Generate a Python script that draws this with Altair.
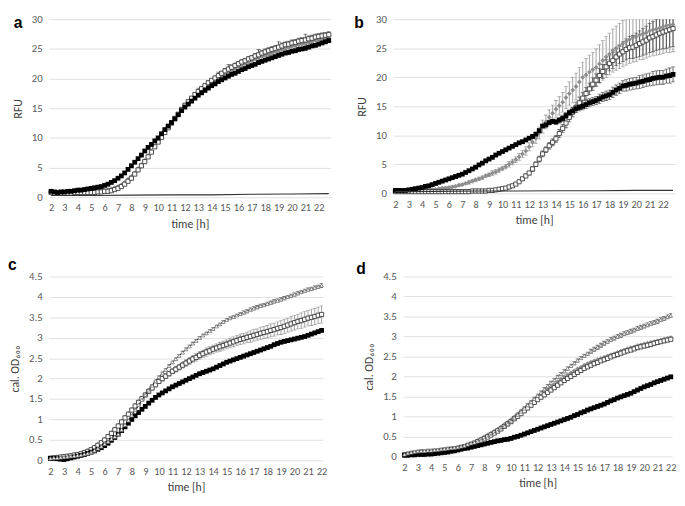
import altair as alt
import pandas as pd

FONT = "Carlito, Lato"

# sampling times (h), every 15 min
T_AB = [2 + 0.25 * i for i in range(84)]   # 2 .. 22.75
T_CD = [2 + 0.25 * i for i in range(81)]   # 2 .. 22

# ---------------- panel a (RFU) ----------------
A_BLACK = [
    1.0, 0.9, 0.8, 0.9, 0.9, 1.0, 1.0, 1.1, 1.2, 1.2, 1.3, 1.4,
    1.5, 1.6, 1.7, 1.8, 2.0, 2.2, 2.5, 2.8, 3.2, 3.6, 4.1, 4.7,
    5.3, 5.9, 6.5, 7.1, 7.8, 8.4, 8.9, 9.5, 10.0, 10.7, 11.4, 12.0,
    12.6, 13.2, 13.9, 14.6, 15.2, 15.7, 16.2, 16.7, 17.2, 17.6, 18.0, 18.4,
    18.8, 19.1, 19.5, 19.8, 20.1, 20.4, 20.7, 20.9, 21.2, 21.5, 21.7, 22.0,
    22.2, 22.4, 22.7, 22.9, 23.1, 23.3, 23.5, 23.7, 23.9, 24.1, 24.3, 24.4,
    24.6, 24.7, 24.9, 25.0, 25.1, 25.3, 25.5, 25.6, 25.8, 26.0, 26.2, 26.4,
]
A_OPEN = [
    0.8, 0.7, 0.7, 0.7, 0.7, 0.7, 0.7, 0.8, 0.8, 0.8, 0.8, 0.8,
    0.8, 0.8, 0.9, 0.9, 1.0, 1.0, 1.1, 1.3, 1.5, 1.8, 2.2, 2.7,
    3.2, 3.9, 4.6, 5.3, 6.0, 6.8, 7.6, 8.5, 9.3, 10.1, 10.9, 11.7,
    12.5, 13.3, 14.0, 14.8, 15.5, 16.1, 16.7, 17.3, 17.8, 18.3, 18.8, 19.3,
    19.7, 20.1, 20.5, 20.9, 21.3, 21.6, 21.9, 22.2, 22.5, 22.8, 23.0, 23.3,
    23.5, 23.8, 24.0, 24.3, 24.5, 24.7, 24.9, 25.1, 25.3, 25.5, 25.7, 25.8,
    26.0, 26.1, 26.3, 26.4, 26.5, 26.7, 26.8, 27.0, 27.1, 27.2, 27.3, 27.4,
]
A_OPEN_ERR = [
    0.1, 0.1, 0.1, 0.1, 0.1, 0.1, 0.1, 0.1, 0.1, 0.1, 0.1, 0.1,
    0.1, 0.1, 0.1, 0.1, 0.1, 0.1, 0.1, 0.1, 0.1, 0.1, 0.1, 0.1,
    0.2, 0.2, 0.2, 0.2, 0.2, 0.2, 0.2, 0.2, 0.2, 0.2, 0.2, 0.2,
    0.3, 0.3, 0.3, 0.3, 0.3, 0.3, 0.3, 0.3, 0.6, 0.3, 0.3, 0.3,
    0.3, 0.3, 0.6, 0.3, 0.4, 0.8, 0.4, 0.4, 0.4, 0.4, 0.4, 0.4,
    0.4, 0.4, 0.9, 0.4, 0.5, 0.5, 0.5, 0.5, 0.9, 0.5, 0.5, 0.5,
    0.5, 0.5, 0.5, 0.5, 1.0, 0.5, 0.5, 0.5, 0.5, 0.5, 0.5, 0.5,
]
A_GRAY = [
    0.9, 0.8, 0.8, 0.8, 0.8, 0.8, 0.8, 0.9, 0.9, 0.9, 0.9, 1.0,
    1.0, 1.0, 1.1, 1.1, 1.2, 1.3, 1.4, 1.6, 1.8, 2.1, 2.5, 3.0,
    3.5, 4.1, 4.8, 5.5, 6.2, 7.0, 7.8, 8.6, 9.4, 10.2, 11.0, 11.8,
    12.5, 13.2, 13.9, 14.6, 15.3, 15.9, 16.5, 17.0, 17.5, 18.0, 18.5, 18.9,
    19.3, 19.7, 20.1, 20.5, 20.8, 21.1, 21.4, 21.7, 22.0, 22.3, 22.5, 22.8,
    23.0, 23.3, 23.5, 23.7, 23.9, 24.1, 24.3, 24.5, 24.7, 24.9, 25.0, 25.2,
    25.4, 25.5, 25.7, 25.8, 25.9, 26.1, 26.2, 26.4, 26.5, 26.6, 26.7, 26.8,
]
A_CTRL_T = [2, 5, 8, 11, 14, 17, 20, 22.75]
A_CTRL = [0.3, 0.3, 0.35, 0.4, 0.4, 0.5, 0.55, 0.6]

# ---------------- panel b (RFU) ----------------
B_BLACK = [
    0.5, 0.5, 0.5, 0.5, 0.6, 0.7, 0.8, 0.9, 1.0, 1.2, 1.3, 1.5,
    1.7, 1.9, 2.1, 2.3, 2.5, 2.7, 2.9, 3.1, 3.3, 3.6, 3.9, 4.2,
    4.5, 4.9, 5.2, 5.6, 5.9, 6.2, 6.6, 6.9, 7.2, 7.5, 7.8, 8.1,
    8.4, 8.7, 8.9, 9.2, 9.5, 9.8, 10.2, 10.8, 11.6, 11.8, 12.2, 12.4,
    12.3, 12.6, 12.9, 13.4, 13.9, 14.2, 14.6, 14.8, 15.0, 15.3, 15.6, 15.8,
    16.0, 16.3, 16.6, 16.8, 17.0, 17.4, 17.8, 18.1, 18.5, 18.6, 18.8, 18.9,
    19.0, 19.2, 19.3, 19.5, 19.6, 19.8, 19.9, 20.0, 20.0, 20.2, 20.3, 20.5,
]
B_BLACK_ERR = [
    0.1, 0.1, 0.1, 0.1, 0.1, 0.1, 0.1, 0.1, 0.1, 0.1, 0.1, 0.1,
    0.1, 0.1, 0.1, 0.1, 0.1, 0.1, 0.1, 0.1, 0.1, 0.1, 0.1, 0.1,
    0.1, 0.1, 0.1, 0.1, 0.2, 0.2, 0.2, 0.2, 0.2, 0.2, 0.2, 0.2,
    0.2, 0.2, 0.2, 0.2, 0.2, 0.3, 0.3, 0.3, 0.3, 0.4, 0.4, 0.4,
    0.4, 0.5, 0.5, 0.5, 0.5, 0.6, 0.6, 0.6, 0.6, 0.7, 0.7, 0.7,
    0.7, 0.8, 0.8, 0.8, 0.8, 0.9, 0.9, 0.9, 0.9, 1.0, 1.0, 1.0,
    1.0, 1.1, 1.1, 1.1, 1.1, 1.2, 1.2, 1.2, 1.2, 1.2, 1.3, 1.3,
]
B_GRAY = [
    0.4, 0.4, 0.4, 0.4, 0.4, 0.4, 0.5, 0.5, 0.5, 0.6, 0.6, 0.7,
    0.7, 0.8, 0.9, 0.9, 1.0, 1.1, 1.2, 1.4, 1.5, 1.7, 1.9, 2.1,
    2.3, 2.5, 2.7, 3.0, 3.2, 3.5, 3.7, 4.0, 4.3, 4.6, 5.0, 5.4,
    5.8, 6.3, 6.8, 7.3, 8.0, 8.8, 9.5, 10.4, 11.5, 12.3, 13.1, 13.8,
    14.5, 15.1, 15.7, 16.5, 17.2, 17.8, 18.4, 19.2, 20.0, 20.4, 20.9, 21.3,
    21.7, 22.3, 22.9, 23.5, 24.0, 24.6, 25.0, 25.4, 25.8, 26.2, 26.5, 26.8,
    27.0, 27.3, 27.5, 27.7, 28.0, 28.2, 28.3, 28.5, 28.7, 28.9, 29.0, 29.1,
]
B_GRAY_ERR = [
    0.1, 0.1, 0.1, 0.1, 0.1, 0.1, 0.1, 0.1, 0.1, 0.1, 0.1, 0.1,
    0.1, 0.1, 0.1, 0.2, 0.2, 0.2, 0.2, 0.2, 0.2, 0.2, 0.3, 0.3,
    0.3, 0.3, 0.3, 0.3, 0.3, 0.4, 0.4, 0.4, 0.4, 0.4, 0.5, 0.5,
    0.5, 0.6, 0.6, 0.7, 0.7, 0.8, 0.9, 1.0, 1.1, 1.2, 1.3, 1.4,
    1.5, 1.6, 1.7, 1.9, 2.0, 2.2, 2.3, 2.5, 2.6, 2.8, 2.9, 3.0,
    3.2, 3.3, 3.4, 3.5, 3.6, 3.7, 3.8, 3.9, 4.0, 4.1, 4.1, 4.2,
    4.3, 4.3, 4.4, 4.4, 4.5, 4.5, 4.5, 4.6, 4.6, 4.6, 4.7, 4.7,
]
B_OPEN = [
    0.3, 0.3, 0.3, 0.3, 0.3, 0.3, 0.3, 0.3, 0.3, 0.3, 0.3, 0.3,
    0.3, 0.3, 0.3, 0.3, 0.3, 0.3, 0.3, 0.3, 0.3, 0.3, 0.3, 0.4,
    0.4, 0.4, 0.4, 0.4, 0.5, 0.5, 0.6, 0.7, 0.8, 0.9, 1.1, 1.3,
    1.6, 2.0, 2.5, 3.0, 3.5, 4.2, 5.0, 5.9, 6.8, 7.5, 8.2, 8.8,
    9.4, 10.3, 11.2, 12.1, 13.1, 14.0, 14.8, 15.6, 16.4, 17.2, 18.0, 18.8,
    19.5, 20.3, 21.0, 21.8, 22.4, 22.9, 23.5, 24.0, 24.4, 24.8, 25.1, 25.2,
    25.5, 25.8, 26.1, 26.4, 26.8, 27.0, 27.3, 27.6, 27.8, 28.0, 28.2, 28.4,
]
B_OPEN_ERR = [
    0.1, 0.1, 0.1, 0.1, 0.1, 0.1, 0.1, 0.1, 0.1, 0.1, 0.1, 0.1,
    0.1, 0.1, 0.1, 0.1, 0.1, 0.1, 0.1, 0.1, 0.1, 0.1, 0.1, 0.1,
    0.1, 0.1, 0.1, 0.1, 0.1, 0.1, 0.1, 0.1, 0.1, 0.1, 0.2, 0.2,
    0.2, 0.2, 0.3, 0.3, 0.3, 0.4, 0.4, 0.5, 0.5, 0.5, 0.6, 0.6,
    0.6, 0.7, 0.7, 0.8, 0.8, 0.8, 0.9, 0.9, 0.9, 1.0, 1.0, 1.1,
    1.1, 1.2, 1.2, 1.3, 1.3, 1.4, 1.5, 1.6, 1.7, 1.8, 1.9, 2.0,
    2.1, 2.2, 2.3, 2.4, 2.5, 2.6, 2.7, 2.8, 2.9, 3.0, 3.0, 3.1,
]
B_CTRL_T = [2, 5, 8, 11, 14, 17, 20, 22.75]
B_CTRL = [0.3, 0.35, 0.4, 0.4, 0.45, 0.45, 0.5, 0.5]

# ---------------- panel c (cal. OD600) ----------------
C_TRI = [
    0.05, 0.06, 0.06, 0.07, 0.08, 0.09, 0.10, 0.11, 0.12, 0.13, 0.15, 0.17,
    0.20, 0.24, 0.29, 0.34, 0.40, 0.46, 0.52, 0.58, 0.64, 0.75, 0.87, 0.98,
    1.10, 1.23, 1.36, 1.48, 1.60, 1.71, 1.83, 1.94, 2.04, 2.13, 2.22, 2.31,
    2.40, 2.48, 2.56, 2.64, 2.72, 2.79, 2.86, 2.93, 3.00, 3.06, 3.11, 3.17,
    3.22, 3.28, 3.33, 3.39, 3.44, 3.48, 3.51, 3.55, 3.58, 3.62, 3.65, 3.69,
    3.72, 3.75, 3.78, 3.80, 3.83, 3.86, 3.89, 3.91, 3.94, 3.97, 4.00, 4.03,
    4.06, 4.09, 4.12, 4.15, 4.18, 4.20, 4.23, 4.25, 4.28,
]
C_TRI_ERR = [
    0.02, 0.02, 0.02, 0.02, 0.02, 0.02, 0.02, 0.02, 0.02, 0.02, 0.02, 0.02,
    0.02, 0.02, 0.02, 0.02, 0.02, 0.02, 0.02, 0.02, 0.02, 0.02, 0.02, 0.02,
    0.02, 0.02, 0.02, 0.02, 0.02, 0.02, 0.02, 0.02, 0.03, 0.03, 0.03, 0.03,
    0.03, 0.03, 0.03, 0.03, 0.03, 0.03, 0.03, 0.03, 0.03, 0.03, 0.03, 0.03,
    0.03, 0.03, 0.03, 0.03, 0.03, 0.03, 0.03, 0.03, 0.04, 0.04, 0.04, 0.04,
    0.04, 0.04, 0.04, 0.04, 0.04, 0.04, 0.04, 0.04, 0.04, 0.04, 0.04, 0.04,
    0.04, 0.04, 0.04, 0.04, 0.04, 0.04, 0.04, 0.04, 0.05,
]
C_GRAY = [
    0.06, 0.07, 0.08, 0.09, 0.10, 0.11, 0.12, 0.14, 0.15, 0.17, 0.20, 0.24,
    0.28, 0.33, 0.39, 0.45, 0.52, 0.60, 0.68, 0.77, 0.86, 0.96, 1.06, 1.15,
    1.25, 1.35, 1.44, 1.53, 1.62, 1.71, 1.79, 1.87, 1.95, 2.02, 2.08, 2.14,
    2.20, 2.26, 2.31, 2.37, 2.42, 2.47, 2.52, 2.56, 2.61, 2.65, 2.69, 2.72,
    2.76, 2.79, 2.82, 2.85, 2.88, 2.91, 2.94, 2.97, 3.00, 3.02, 3.04, 3.06,
    3.08, 3.10, 3.12, 3.14, 3.16, 3.18, 3.20, 3.22, 3.24, 3.27, 3.30, 3.33,
    3.36, 3.39, 3.41, 3.44, 3.46, 3.49, 3.51, 3.54, 3.56,
]
C_OPEN = [
    0.05, 0.06, 0.07, 0.08, 0.09, 0.10, 0.11, 0.13, 0.14, 0.16, 0.19, 0.22,
    0.26, 0.31, 0.37, 0.43, 0.50, 0.58, 0.66, 0.75, 0.84, 0.94, 1.04, 1.13,
    1.23, 1.33, 1.42, 1.51, 1.60, 1.69, 1.77, 1.85, 1.93, 2.00, 2.06, 2.12,
    2.18, 2.23, 2.28, 2.33, 2.38, 2.43, 2.48, 2.52, 2.57, 2.61, 2.65, 2.68,
    2.72, 2.75, 2.78, 2.81, 2.84, 2.87, 2.90, 2.93, 2.96, 2.98, 3.01, 3.03,
    3.06, 3.08, 3.11, 3.13, 3.15, 3.18, 3.20, 3.23, 3.25, 3.28, 3.31, 3.34,
    3.37, 3.40, 3.42, 3.45, 3.48, 3.50, 3.52, 3.55, 3.57,
]
C_OPEN_ERR = [
    0.03, 0.03, 0.03, 0.03, 0.03, 0.03, 0.03, 0.03, 0.03, 0.03, 0.03, 0.03,
    0.03, 0.03, 0.03, 0.03, 0.03, 0.03, 0.03, 0.03, 0.03, 0.03, 0.03, 0.03,
    0.04, 0.04, 0.04, 0.04, 0.04, 0.05, 0.05, 0.05, 0.05, 0.06, 0.06, 0.06,
    0.06, 0.07, 0.07, 0.07, 0.08, 0.08, 0.08, 0.09, 0.09, 0.09, 0.10, 0.10,
    0.10, 0.10, 0.11, 0.11, 0.11, 0.12, 0.12, 0.12, 0.13, 0.13, 0.13, 0.14,
    0.14, 0.14, 0.15, 0.15, 0.15, 0.16, 0.16, 0.16, 0.17, 0.17, 0.17, 0.18,
    0.18, 0.18, 0.19, 0.19, 0.19, 0.20, 0.20, 0.20, 0.21,
]
C_BLACK = [
    0.05, 0.05, 0.04, 0.03, 0.02, 0.04, 0.06, 0.08, 0.10, 0.12, 0.14, 0.17,
    0.20, 0.23, 0.27, 0.31, 0.36, 0.42, 0.49, 0.56, 0.64, 0.73, 0.82, 0.91,
    1.00, 1.09, 1.17, 1.25, 1.32, 1.40, 1.47, 1.54, 1.60, 1.65, 1.70, 1.75,
    1.80, 1.84, 1.88, 1.92, 1.96, 2.00, 2.04, 2.08, 2.12, 2.15, 2.18, 2.21,
    2.24, 2.28, 2.32, 2.36, 2.40, 2.43, 2.46, 2.49, 2.52, 2.55, 2.58, 2.61,
    2.64, 2.67, 2.70, 2.73, 2.76, 2.79, 2.83, 2.86, 2.89, 2.91, 2.93, 2.95,
    2.97, 2.99, 3.01, 3.03, 3.06, 3.09, 3.12, 3.15, 3.18,
]

# ---------------- panel d (cal. OD600) ----------------
D_TRI = [
    0.05, 0.08, 0.10, 0.12, 0.13, 0.14, 0.14, 0.15, 0.15, 0.16, 0.17, 0.18,
    0.19, 0.20, 0.21, 0.22, 0.23, 0.25, 0.27, 0.30, 0.33, 0.35, 0.38, 0.40,
    0.43, 0.47, 0.52, 0.57, 0.62, 0.68, 0.75, 0.81, 0.88, 0.96, 1.04, 1.12,
    1.20, 1.28, 1.36, 1.44, 1.52, 1.60, 1.68, 1.76, 1.84, 1.91, 1.99, 2.06,
    2.13, 2.20, 2.27, 2.33, 2.40, 2.46, 2.52, 2.57, 2.63, 2.68, 2.73, 2.78,
    2.83, 2.87, 2.92, 2.96, 3.00, 3.03, 3.07, 3.10, 3.13, 3.16, 3.20, 3.23,
    3.26, 3.29, 3.32, 3.35, 3.38, 3.42, 3.45, 3.49, 3.52,
]
D_TRI_ERR = [
    0.03, 0.03, 0.03, 0.03, 0.03, 0.03, 0.03, 0.03, 0.03, 0.03, 0.03, 0.03,
    0.03, 0.03, 0.03, 0.03, 0.03, 0.03, 0.03, 0.03, 0.03, 0.03, 0.03, 0.03,
    0.03, 0.03, 0.03, 0.03, 0.03, 0.03, 0.03, 0.03, 0.04, 0.04, 0.04, 0.04,
    0.04, 0.04, 0.04, 0.04, 0.04, 0.04, 0.04, 0.04, 0.04, 0.04, 0.04, 0.04,
    0.04, 0.04, 0.04, 0.04, 0.04, 0.04, 0.04, 0.04, 0.05, 0.05, 0.05, 0.05,
    0.05, 0.05, 0.05, 0.05, 0.05, 0.05, 0.05, 0.05, 0.05, 0.05, 0.05, 0.05,
    0.05, 0.05, 0.05, 0.05, 0.05, 0.05, 0.05, 0.05, 0.05,
]
D_GRAY = [
    0.06, 0.07, 0.08, 0.09, 0.10, 0.10, 0.11, 0.11, 0.12, 0.13, 0.14, 0.15,
    0.16, 0.17, 0.19, 0.20, 0.22, 0.24, 0.26, 0.28, 0.31, 0.35, 0.40, 0.44,
    0.49, 0.54, 0.58, 0.63, 0.68, 0.74, 0.80, 0.86, 0.92, 0.99, 1.06, 1.14,
    1.21, 1.28, 1.36, 1.43, 1.50, 1.56, 1.62, 1.68, 1.74, 1.80, 1.87, 1.93,
    1.99, 2.04, 2.09, 2.14, 2.19, 2.23, 2.28, 2.32, 2.36, 2.39, 2.42, 2.45,
    2.48, 2.51, 2.54, 2.57, 2.60, 2.63, 2.66, 2.69, 2.72, 2.74, 2.77, 2.79,
    2.81, 2.83, 2.85, 2.87, 2.89, 2.91, 2.93, 2.95, 2.97,
]
D_OPEN = [
    0.04, 0.05, 0.06, 0.07, 0.08, 0.08, 0.09, 0.09, 0.10, 0.11, 0.12, 0.13,
    0.14, 0.15, 0.17, 0.18, 0.20, 0.22, 0.24, 0.27, 0.30, 0.33, 0.37, 0.41,
    0.45, 0.49, 0.54, 0.59, 0.64, 0.69, 0.75, 0.81, 0.87, 0.94, 1.00, 1.07,
    1.14, 1.21, 1.28, 1.35, 1.42, 1.48, 1.54, 1.60, 1.66, 1.72, 1.78, 1.84,
    1.90, 1.95, 2.00, 2.05, 2.10, 2.15, 2.20, 2.24, 2.28, 2.32, 2.35, 2.39,
    2.42, 2.45, 2.49, 2.52, 2.55, 2.58, 2.61, 2.64, 2.66, 2.69, 2.72, 2.74,
    2.76, 2.78, 2.80, 2.83, 2.85, 2.87, 2.89, 2.91, 2.93,
]
D_BLACK = [
    0.03, 0.03, 0.04, 0.04, 0.05, 0.05, 0.05, 0.06, 0.06, 0.07, 0.08, 0.09,
    0.10, 0.11, 0.13, 0.14, 0.16, 0.18, 0.20, 0.21, 0.23, 0.25, 0.27, 0.29,
    0.31, 0.33, 0.35, 0.37, 0.39, 0.40, 0.42, 0.43, 0.45, 0.48, 0.50, 0.53,
    0.56, 0.59, 0.62, 0.65, 0.68, 0.71, 0.74, 0.77, 0.80, 0.83, 0.86, 0.89,
    0.92, 0.95, 0.98, 1.02, 1.05, 1.09, 1.12, 1.16, 1.19, 1.22, 1.25, 1.28,
    1.31, 1.35, 1.39, 1.42, 1.46, 1.49, 1.52, 1.55, 1.58, 1.62, 1.66, 1.70,
    1.74, 1.77, 1.80, 1.84, 1.87, 1.90, 1.93, 1.96, 1.99,
]

HOURS = list(range(2, 23))
RFU_TICKS = [0, 5, 10, 15, 20, 25, 30]
OD_TICKS = [0, 0.5, 1, 1.5, 2, 2.5, 3, 3.5, 4, 4.5]

DARK = "#3a3a3a"
GRAYERR = "#8a8a8a"


def mkdf(t, v, e=None):
    d = pd.DataFrame({"t": t, "v": v})
    if e is not None:
        d["lo"] = d["v"] - pd.Series(e)
        d["hi"] = d["v"] + pd.Series(e)
    return d


def panel(letter, t, ymax, yticks, ytitle, xdom, w, h, letter_x, letter_y,
          gray, opn, blk, tri=None, errs=(), ctrl=None):
    xs = alt.Scale(domain=xdom, nice=False, zero=False)
    ys = alt.Scale(domain=[0, ymax], nice=False, zero=True)
    xenc = alt.X("t:Q", scale=xs,
                 axis=alt.Axis(values=HOURS, title="time [h]", grid=False, ticks=False,
                               domain=False, labelPadding=6, titlePadding=5,
                               labelFlush=False, labelFontSize=10.5,
                               labelOverlap=False))
    yaxis = alt.Axis(values=yticks, title=ytitle, grid=True, ticks=False, domain=False,
                     format="~g", labelPadding=7, titlePadding=7)
    yenc = alt.Y("v:Q", scale=ys, axis=yaxis)
    layers = []
    for (v, e, col) in errs:
        layers.append(
            alt.Chart(mkdf(t, v, e)).mark_errorbar(
                ticks={"size": 4}, clip=True, color=col, thickness=0.8
            ).encode(x=xenc, y=alt.Y("lo:Q", scale=ys, axis=yaxis), y2="hi:Q")
        )
    layers.append(
        alt.Chart(mkdf(t, gray)).mark_point(
            shape="diamond", filled=True, color="#8c8c8c", size=24, opacity=1
        ).encode(x=xenc, y=yenc)
    )
    layers.append(
        alt.Chart(mkdf(t, opn)).mark_point(
            shape="square", filled=True, fill="white", stroke=DARK,
            strokeWidth=0.9, size=18, opacity=1
        ).encode(x=xenc, y=yenc)
    )
    layers.append(
        alt.Chart(mkdf(t, blk)).mark_point(
            shape="square", filled=True, color="#000000", size=24, opacity=1
        ).encode(x=xenc, y=yenc)
    )
    if tri is not None:
        layers.append(
            alt.Chart(mkdf(t, tri)).mark_line(color="#1a1a1a", strokeWidth=0.9)
            .encode(x=xenc, y=yenc)
        )
        layers.append(
            alt.Chart(mkdf(t, tri)).mark_point(
                shape="triangle-up", filled=True, fill="white", stroke="#7a7a7a",
                strokeWidth=0.8, size=14, opacity=1
            ).encode(x=xenc, y=yenc)
        )
    if ctrl is not None:
        ct, cv = ctrl
        layers.append(
            alt.Chart(mkdf(ct, cv)).mark_line(color="#333333", strokeWidth=1.2)
            .encode(x=xenc, y=yenc)
        )
    layers.append(
        alt.Chart(pd.DataFrame({"s": [letter]})).mark_text(
            font="Liberation Sans", fontWeight="bold", fontSize=16, align="left",
            baseline="middle", color="black"
        ).encode(x=alt.value(letter_x), y=alt.value(letter_y), text="s:N")
    )
    return alt.layer(*layers).properties(width=w, height=h)


pa = panel("a", T_AB, 30, RFU_TICKS, "RFU", [1.85, 22.9], 288, 182, -36, 4,
           A_GRAY, A_OPEN, A_BLACK, errs=[(A_OPEN, A_OPEN_ERR, DARK)],
           ctrl=(A_CTRL_T, A_CTRL))
pb = panel("b", T_AB, 30, RFU_TICKS, "RFU", [1.85, 22.9], 288, 178, -40, 4,
           B_GRAY, B_OPEN, B_BLACK,
           errs=[(B_GRAY, B_GRAY_ERR, GRAYERR), (B_OPEN, B_OPEN_ERR, DARK),
                 (B_BLACK, B_BLACK_ERR, DARK)],
           ctrl=(B_CTRL_T, B_CTRL))
pc = panel("c", T_CD, 4.5, OD_TICKS, "cal. OD₆₀₀", [1.9, 22.1], 280, 188, -42, -12,
           C_GRAY, C_OPEN, C_BLACK, tri=C_TRI,
           errs=[(C_OPEN, C_OPEN_ERR, GRAYERR), (C_TRI, C_TRI_ERR, DARK)])
pd_ = panel("d", T_CD, 4.5, OD_TICKS, "cal. OD₆₀₀", [1.9, 22.1], 275, 184, -48, -8,
            D_GRAY, D_OPEN, D_BLACK, tri=D_TRI,
            errs=[(D_TRI, D_TRI_ERR, DARK)])

chart = alt.vconcat(
    alt.hconcat(pa, pb, spacing=22),
    alt.hconcat(pc, pd_, spacing=30),
    spacing=28,
).properties(padding=0).configure_view(stroke=None).configure_axis(
    labelFont=FONT, titleFont=FONT, labelColor="#595959", titleColor="#404040",
    labelFontSize=11, titleFontSize=12, titleFontWeight="normal",
    gridColor="#d9d9d9", gridWidth=0.8,
)

chart.save("out.html", embed_options={"renderer": "svg", "actions": False})
